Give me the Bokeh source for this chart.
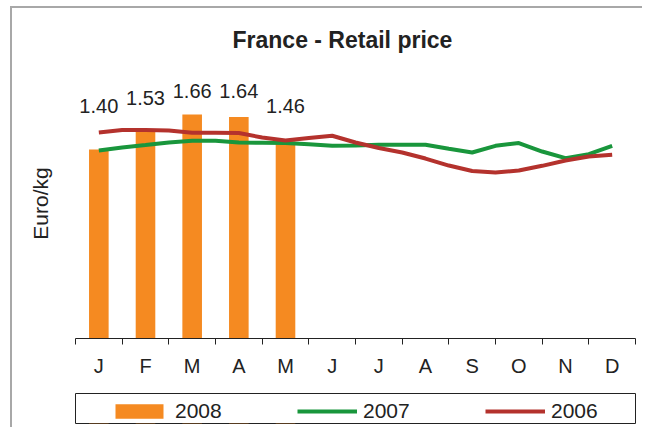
from bokeh.plotting import figure
from bokeh.layouts import column
from bokeh.models import FixedTicker, Legend, LegendItem, Range1d, ColumnDataSource
from bokeh.embed import file_html
from bokeh.resources import INLINE
from bokeh.core.properties import value

# ---------------- data ----------------
months = ["J", "F", "M", "A", "M", "J", "J", "A", "S", "O", "N", "D"]
bar_month_index = [0, 1, 2, 3, 4]
prices_2008 = [1.40, 1.53, 1.66, 1.64, 1.46]
price_labels = ["1.40", "1.53", "1.66", "1.64", "1.46"]

# half-month steps: 0 = mid-January ... 22 = mid-December
half_month_step = list(range(23))
prices_2007 = [1.393, 1.415, 1.433, 1.452, 1.464, 1.464, 1.452, 1.450, 1.448,
               1.439, 1.428, 1.430, 1.435, 1.435, 1.435, 1.405, 1.378, 1.427,
               1.448, 1.385, 1.336, 1.365, 1.427]
prices_2006 = [1.526, 1.544, 1.544, 1.541, 1.524, 1.524, 1.522, 1.489, 1.467,
               1.485, 1.502, 1.452, 1.411, 1.378, 1.333, 1.281, 1.241, 1.230,
               1.244, 1.279, 1.319, 1.348, 1.361]
series_names = ["2008", "2007", "2006"]

# label placement (style, in data units above each bar)
label_lift = [0.319, 0.248, 0.170, 0.190, 0.259]

ORANGE = "#F58A21"
GREEN = "#19963C"
RED = "#B4322D"
TEXT = "#222222"
FONT = "Liberation Sans"

bar_src = ColumnDataSource(dict(
    x=[i + 0.5 for i in bar_month_index],
    top=prices_2008,
    ly=[v + d for v, d in zip(prices_2008, label_lift)],
    txt=price_labels,
))
line_x = [0.5 + s / 2 for s in half_month_step]

# ---------------- main chart ----------------
p = figure(width=630, height=384, output_backend="svg", toolbar_location=None,
           x_range=Range1d(0, 12), y_range=Range1d(0, 2.0),
           min_border_left=63, min_border_right=6, min_border_top=60,
           min_border_bottom=54)
p.outline_line_color = None
p.grid.visible = False
p.background_fill_color = "white"

p.title.text = "France - Retail price"
p.title.text_font = FONT
p.title.text_font_size = "23px"
p.title.text_font_style = "bold"
p.title.text_color = TEXT
p.title.align = "left"
p.title.offset = 157
p.title.standoff = 31

r08 = p.vbar(x="x", top="top", width=0.42, source=bar_src, fill_color=ORANGE, line_color=None)
r07 = p.line(line_x, prices_2007, line_color=GREEN, line_width=4)
r06 = p.line(line_x, prices_2006, line_color=RED, line_width=4)

p.text(x="x", y="ly", text="txt", source=bar_src, text_align="center",
       text_baseline="middle", text_font=value(FONT), text_font_size="20px",
       text_color=TEXT)

xa = p.xaxis[0]
xa.ticker = FixedTicker(ticks=[i + 0.5 for i in range(12)], minor_ticks=list(range(13)))
xa.major_label_overrides = {i + 0.5: m for i, m in enumerate(months)}
xa.major_tick_line_color = None
xa.major_tick_out = 0
xa.major_tick_in = 0
xa.minor_tick_line_color = TEXT
xa.minor_tick_out = 6
xa.minor_tick_in = 0
xa.axis_line_color = TEXT
xa.major_label_standoff = 10
xa.major_label_text_font = FONT
xa.major_label_text_font_size = "20px"
xa.major_label_text_color = TEXT

ya = p.yaxis[0]
ya.ticker = FixedTicker(ticks=[])
ya.axis_line_color = None
ya.major_tick_line_color = None
ya.minor_tick_line_color = None
ya.axis_label = "Euro/kg"
ya.axis_label_text_font = FONT
ya.axis_label_text_font_size = "21px"
ya.axis_label_text_font_style = "normal"
ya.axis_label_text_color = TEXT
ya.axis_label_standoff = 24

# ---------------- legend strip ----------------
# same series drawn again, out of this strip's view, only to key the legend
lg = figure(width=630, height=35, output_backend="svg", toolbar_location=None,
            x_range=Range1d(0, 12), y_range=Range1d(10, 11),
            x_axis_type=None, y_axis_type=None,
            min_border_left=63, min_border_right=7, min_border_top=1,
            min_border_bottom=4)
lg.grid.visible = False
lg.outline_line_color = TEXT
lg.outline_line_width = 1
k08 = lg.vbar(x="x", top="top", width=0.42, source=bar_src, fill_color=ORANGE, line_color=None)
k07 = lg.line(line_x, prices_2007, line_color=GREEN, line_width=4)
k06 = lg.line(line_x, prices_2006, line_color=RED, line_width=4)

legend = Legend(items=[LegendItem(label=series_names[0], renderers=[k08]),
                       LegendItem(label=series_names[1], renderers=[k07]),
                       LegendItem(label=series_names[2], renderers=[k06])],
                location=(34, 0), orientation="horizontal",
                glyph_width=60, glyph_height=18, label_standoff=6,
                label_width=60, spacing=62, padding=2, margin=0,
                border_line_color=None, background_fill_alpha=0,
                label_text_font=FONT, label_text_font_size="21px",
                label_text_color=TEXT)
lg.add_layout(legend, "center")

layout = column(p, lg, spacing=0,
                styles={"margin-left": "10px", "margin-top": "6px",
                        "border-top": "2px solid #a8a8a8", "border-left": "2px solid #a8a8a8"})

open("out.html", "w").write(file_html(layout, INLINE))
